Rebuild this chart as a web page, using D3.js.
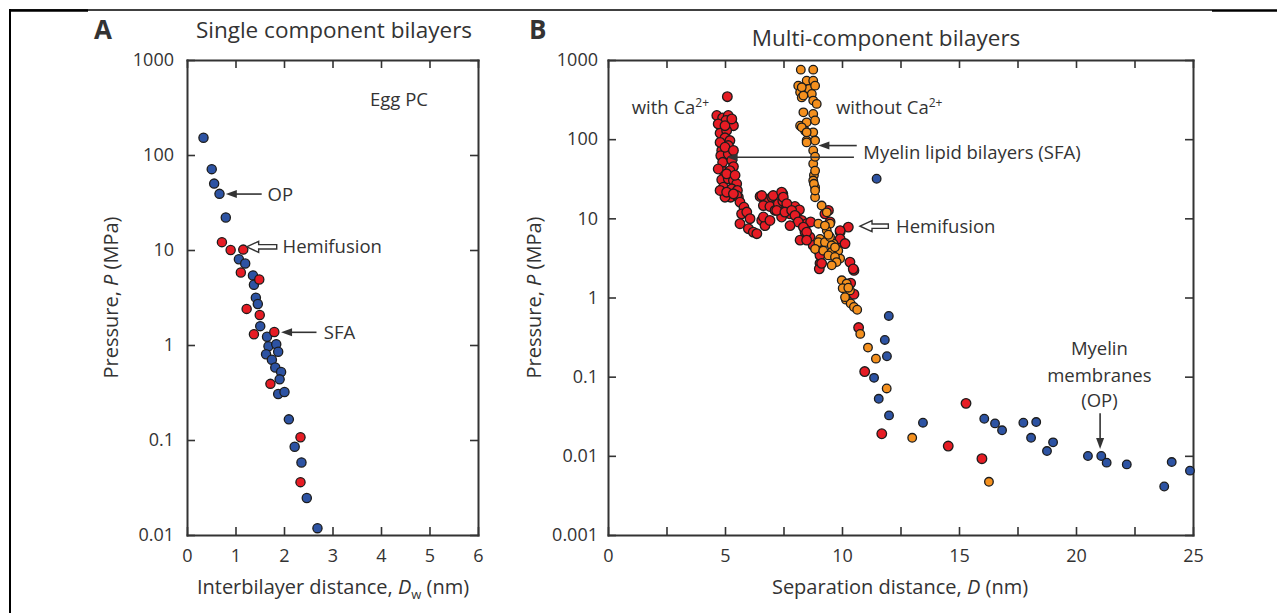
<!DOCTYPE html>
<html>
<head>
<meta charset="utf-8">
<script src="https://cdn.jsdelivr.net/npm/d3@7"></script>
<style>
  body { margin: 0; background: #fff; }
  text { font-family: "Open Sans", sans-serif; fill: #333; }
</style>
</head>
<body>
<svg id="fig" width="1277" height="613"></svg>
<script>
// ---- data (distance in nm, pressure in MPa) ----
// panel A: egg PC, single component bilayers
const eggBlue = [[0.34,152],[0.51,71],[0.56,50],[0.67,39],[0.80,22],[1.07,8.0],[1.20,7.2],[1.36,5.4],
  [1.38,4.3],[1.42,3.15],[1.46,2.7],[1.51,1.58],[1.65,1.22],[1.68,0.97],[1.84,1.02],[1.88,0.85],
  [1.63,0.80],[1.75,0.70],[1.82,0.58],[1.94,0.52],[1.91,0.435],[1.88,0.305],[2.01,0.32],[2.10,0.165],
  [2.22,0.085],[2.36,0.058],[2.47,0.0245],[2.69,0.0118]];
const eggRed = [[0.72,12.1],[0.90,10.0],[1.16,10.1],[1.11,5.8],[1.49,4.9],[1.23,2.4],[1.50,2.07],
  [1.38,1.30],[1.80,1.37],[1.72,0.39],[2.34,0.107],[2.34,0.036]];

// panel B: myelin lipid bilayers with Ca2+ (red), without Ca2+ (orange), myelin membranes (blue)
const withCa = [[5.10,344],[4.65,199],[4.90,186],[5.14,199],[5.04,172],[5.29,159],[5.36,148],[4.79,119],
  [5.07,128],[5.00,104],[5.21,96],[5.14,83],[4.86,72],[4.82,62],[5.14,65],[4.90,51],[5.29,54],[5.36,45],
  [4.96,39],[5.21,40],[4.86,30.7],[5.14,31.6],[5.36,30],[5.50,27.3],[4.93,24.7],[5.29,23.6],[5.53,22.5],
  [5.24,18.5],[5.57,18.5],[5.00,18.5],[5.50,19.4],[5.64,16.0],[5.81,13.8],[5.71,11.4],[5.93,12.0],
  [6.07,9.9],[5.64,8.55],[6.00,7.4],[6.21,6.7],[6.36,6.4],[6.57,9.4],[6.71,8.1],
  [4.71,156],[5.00,148],[5.29,180],[4.79,91],[5.00,79],[5.36,72],[4.71,42],[5.07,36.5],[5.43,35],
  [4.79,22.5],[5.07,21.4],[5.36,20.4],
  [6.50,18.9],[6.78,17.2],[7.00,18.5],[6.64,14.5],[6.92,14.1],[7.14,12.6],[7.28,15.3],[7.47,20.4],
  [7.47,16.5],[7.64,13.8],[7.42,10.4],[7.78,11.4],[7.99,14.1],[8.18,12.8],[8.06,10.4],[8.28,9.4],
  [8.49,8.55],[8.66,9.0],[8.21,5.3],[8.42,6.7],[8.63,5.8],[8.77,4.55],[8.99,3.9],[9.06,2.7],[9.03,2.3],
  [9.27,11.4],[10.27,7.75],[9.99,5.0],[9.92,6.7],[10.34,2.8],[10.51,2.2],
  [6.57,19.4],[7.06,19.4],[7.42,21.4],[7.49,18.5],[7.64,15.3],[7.21,12.6],[7.56,12.0],[7.85,12.6],
  [7.99,10.9],[8.13,9.0],[7.78,8.1],[8.35,7.75],[8.49,6.7],[8.49,5.3],[9.42,12.6],[9.49,9.0],
  [9.92,7.0],[9.92,5.5],[10.13,4.8],[9.06,3.4],[9.13,2.7],[10.48,2.3],[6.64,10.4],[6.92,9.4],
  [10.37,1.52],[10.51,1.10],[10.71,0.417],[10.97,0.116],[11.70,0.019],[14.54,0.0133],[15.30,0.046],[15.98,0.0092]];
const withoutCa = [[8.24,755],[8.77,755],[8.13,474],[8.49,548],[8.77,548],[8.21,390],[8.59,431],[8.85,474],
  [8.28,337],[8.71,372],[8.77,307],[8.92,279],[8.35,218],[8.77,208],[8.21,148],[8.49,163],[8.85,172],
  [8.42,128],[8.77,122],[8.49,96],[8.85,96],[8.77,72],[8.77,49],[8.80,35],[8.77,30],[8.85,24.7],
  [8.85,18.5],[8.28,452],[8.35,355],[8.28,141],[8.49,122],[8.49,91],[8.85,40],[8.80,27.3],[8.85,22.5],[8.85,60],
  [9.13,14.5],[9.35,11.9],[9.49,8.55],[9.35,7.0],[9.06,5.5],[9.63,4.8],[9.84,3.9],[9.92,3.1],[8.99,8.55],
  [9.27,8.1],[8.99,5.0],[9.27,5.0],[9.49,5.8],[9.56,4.55],[8.85,4.1],[9.20,3.9],[9.56,3.75],[9.42,3.4],
  [9.70,4.3],[9.70,3.25],[9.77,2.8],[9.56,2.55],[9.42,6.2],
  [9.99,1.65],[10.20,1.5],[10.34,1.23],[10.03,1.31],[10.27,1.33],[10.17,0.94],[10.37,0.84],[10.51,0.76],
  [10.65,0.70],[10.78,0.347],[11.11,0.233],[11.45,0.169],[11.91,0.071],[13.00,0.0169],[16.28,0.0047],[10.13,1.01]];
const membranes = [[11.48,31.6],[12.00,0.585],[11.83,0.291],[11.92,0.181],[11.37,0.0966],[11.57,0.0525],
  [12.01,0.0324],[13.46,0.0262],[16.08,0.0294],[16.54,0.0257],[16.84,0.021],[17.75,0.0262],[18.30,0.0267],
  [18.08,0.0169],[19.02,0.0148],[18.76,0.0115],[20.51,0.00995],[21.08,0.00995],[21.31,0.0082],[22.17,0.0078],
  [23.77,0.0041],[24.09,0.00835],[24.87,0.0065]];

// ---- ticks ----
const xTicksA = [0,1,2,3,4,5,6];
const yTicksA = [0.01,0.1,1,10,100,1000];
const xTicksB = [0,2.5,5,7.5,10,12.5,15,17.5,20,22.5,25];
const xLabelsB = [0,5,10,15,20,25];
const yTicksB = [0.001,0.01,0.1,1,10,100,1000];

const BLUE = "#2d53a3", RED = "#e61c24", ORANGE = "#f4901e";
const svg = d3.select("#fig");

// outer frame
svg.append("line").attr("x1",10).attr("y1",10).attr("x2",1212).attr("y2",10).attr("stroke","#000").attr("stroke-width",1.5);
svg.append("line").attr("x1",10).attr("y1",10.5).attr("x2",88).attr("y2",10.5).attr("stroke","#000").attr("stroke-width",2.5);
svg.append("line").attr("x1",1212).attr("y1",10.5).attr("x2",1277).attr("y2",10.5).attr("stroke","#000").attr("stroke-width",2.5);
svg.append("line").attr("x1",10).attr("y1",9).attr("x2",10).attr("y2",613).attr("stroke","#000").attr("stroke-width",2);

function styleAxis(sel) {
  sel.attr("font-family", null).attr("font-size", null);
  sel.select(".domain").attr("stroke","#333").attr("stroke-width",2).attr("stroke-linecap","square");
  sel.selectAll(".tick line").attr("stroke","#333").attr("stroke-width",1.6);
  sel.selectAll(".tick text").attr("fill","#333").style("font-size","18px");
}

function panel(cfg) {
  const x = d3.scaleLinear().domain(cfg.xDomain).range([cfg.left, cfg.right]);
  const y = d3.scaleLog().domain(cfg.yDomain).range([cfg.bottom, cfg.top]);
  const g = svg.append("g");

  g.append("g").attr("transform",`translate(0,${cfg.bottom})`)
    .call(d3.axisBottom(x).tickValues(cfg.xTicks).tickSizeInner(-8).tickSizeOuter(0).tickPadding(14)
      .tickFormat(d => cfg.xLabels.includes(d) ? String(d) : ""))
    .call(styleAxis);
  g.append("g").attr("transform",`translate(0,${cfg.top})`)
    .call(d3.axisTop(x).tickValues(cfg.xTicks).tickSizeInner(-8).tickSizeOuter(0).tickFormat(""))
    .call(styleAxis);
  g.append("g").attr("transform",`translate(${cfg.left},0)`)
    .call(d3.axisLeft(y).tickValues(cfg.yTicks).tickSizeInner(-8).tickSizeOuter(0).tickPadding(cfg.yPad)
      .tickFormat(d => String(d)))
    .call(styleAxis);
  g.append("g").attr("transform",`translate(${cfg.right},0)`)
    .call(d3.axisRight(y).tickValues(cfg.yTicks).tickSizeInner(-8).tickSizeOuter(0).tickFormat(""))
    .call(styleAxis);

  // y title
  const yt = g.append("text")
    .attr("transform",`translate(${cfg.yTitleX},${(cfg.top+cfg.bottom)/2}) rotate(-90)`)
    .attr("text-anchor","middle").style("font-size","20px");
  yt.append("tspan").text("Pressure, ");
  yt.append("tspan").attr("font-style","italic").text("P");
  yt.append("tspan").text(" (MPa)");

  // title
  g.append("text").attr("x",cfg.titleX).attr("y",cfg.titleY).attr("text-anchor","middle")
    .style("font-size","22.5px").text(cfg.title);
  // panel letter
  g.append("text").attr("x",cfg.letterX).attr("y",39).style("font-size","26px")
    .attr("font-weight","bold").attr("fill","#222").text(cfg.letter);
  return {x, y, g};
}

function dots(p, data, color, r) {
  p.g.append("g").selectAll("circle").data(data).join("circle")
    .attr("cx", d => p.x(d[0])).attr("cy", d => p.y(d[1])).attr("r", r)
    .attr("fill", color).attr("stroke","#1c1c1c").attr("stroke-width",1.3);
}

// solid arrow from (x0,y0) to tip (x1,y1), data coordinates
function arrow(p, x0, y0, x1, y1) {
  const ax = p.x(x0), ay = p.y(y0), bx = p.x(x1), by = p.y(y1);
  const ang = Math.atan2(by - ay, bx - ax);
  const len = Math.hypot(bx - ax, by - ay);
  const a = p.g.append("g").attr("transform",`translate(${bx},${by}) rotate(${ang*180/Math.PI})`);
  a.append("line").attr("x1",-len).attr("y1",0).attr("x2",-8).attr("y2",0).attr("stroke","#333").attr("stroke-width",1.6);
  a.append("path").attr("d","M0,0L-11,-4L-11,4Z").attr("fill","#333");
}
// hollow arrow pointing left, tip at (x1,y), tail at x0
function hollowArrow(p, x0, x1, yv) {
  const tx = p.x(x1), ty = p.y(yv), L = p.x(x0) - tx;
  p.g.append("path")
    .attr("transform",`translate(${tx},${ty})`)
    .attr("d",`M0,0L12,-5.5L12,-2.2L${L},-2.2L${L},2.2L12,2.2L12,5.5Z`)
    .attr("fill","#fff").attr("stroke","#333").attr("stroke-width",1.4);
}
function note(p, xv, yv, s, anchor) {
  return p.g.append("text").attr("x",p.x(xv)).attr("y",p.y(yv)).attr("dy","0.35em")
    .attr("text-anchor",anchor || "start").style("font-size","18.5px").text(s);
}

// ---- panel A ----
const A = panel({left:187, right:478, top:60, bottom:535, xDomain:[0,6], yDomain:[0.01,1000],
  xTicks:xTicksA, xLabels:xTicksA, yTicks:yTicksA, yPad:13, yTitleX:118,
  title:"Single component bilayers", titleX:334, titleY:38, letter:"A", letterX:94});
dots(A, eggBlue, BLUE, 4.6);
dots(A, eggRed, RED, 4.6);

const xtA = A.g.append("text").attr("x",333).attr("y",594).attr("text-anchor","middle").style("font-size","20px");
xtA.append("tspan").text("Interbilayer distance, ");
xtA.append("tspan").attr("font-style","italic").text("D");
xtA.append("tspan").attr("dy",5).style("font-size","13px").text("w");
xtA.append("tspan").attr("dy",-5).text(" (nm)");

note(A, 4.37, 380, "Egg PC", "middle");
arrow(A, 1.54, 38.8, 0.80, 38.8);
note(A, 1.66, 38.8, "OP");
hollowArrow(A, 1.85, 1.23, 10.8);
note(A, 1.97, 10.8, "Hemifusion");
arrow(A, 2.67, 1.36, 1.94, 1.36);
note(A, 2.82, 1.36, "SFA");

// ---- panel B ----
const B = panel({left:608, right:1193, top:60, bottom:535, xDomain:[0,25], yDomain:[0.001,1000],
  xTicks:xTicksB, xLabels:xLabelsB, yTicks:yTicksB, yPad:10, yTitleX:541,
  title:"Multi-component bilayers", titleX:886, titleY:46, letter:"B", letterX:529});
dots(B, withCa, RED, 4.8);
dots(B, withoutCa, ORANGE, 4.3);
dots(B, membranes, BLUE, 4.3);

const xtB = B.g.append("text").attr("x",900).attr("y",594).attr("text-anchor","middle").style("font-size","20px");
xtB.append("tspan").text("Separation distance, ");
xtB.append("tspan").attr("font-style","italic").text("D");
xtB.append("tspan").text(" (nm)");

function caLabel(xv, s) {
  const t = note(B, xv, 250, s);
  t.append("tspan").attr("dy",-7).style("font-size","12px").text("2+");
}
caLabel(1.01, "with Ca");
caLabel(9.74, "without Ca");
arrow(B, 10.63, 83, 8.99, 83);
arrow(B, 10.51, 59, 5.07, 59);
note(B, 10.91, 68, "Myelin lipid bilayers (SFA)");
hollowArrow(B, 11.98, 10.77, 7.97);
note(B, 12.31, 7.97, "Hemifusion");
note(B, 21.0, 0.227, "Myelin", "middle");
note(B, 21.0, 0.1045, "membranes", "middle");
note(B, 21.0, 0.0506, "(OP)", "middle");
arrow(B, 21.03, 0.0344, 21.03, 0.0122);
</script>
</body>
</html>
